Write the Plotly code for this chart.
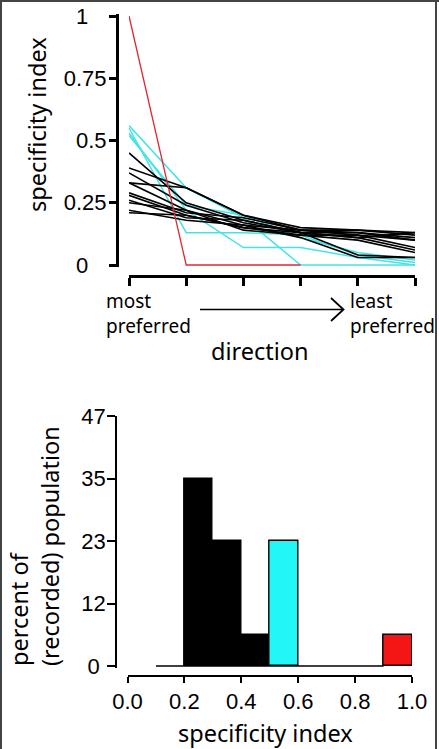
import plotly.graph_objects as go

W, H = 439, 749

# ---------------- data: top panel ----------------
directions = [0, 1, 2, 3, 4, 5]
black_series = [
    [0.45, 0.25, 0.18, 0.13, 0.04, 0.03],
    [0.39, 0.31, 0.20, 0.14, 0.13, 0.10],
    [0.37, 0.24, 0.17, 0.13, 0.11, 0.06],
    [0.33, 0.31, 0.20, 0.15, 0.14, 0.13],
    [0.33, 0.22, 0.16, 0.14, 0.12, 0.07],
    [0.29, 0.21, 0.19, 0.14, 0.14, 0.12],
    [0.28, 0.20, 0.15, 0.12, 0.10, 0.05],
    [0.26, 0.19, 0.18, 0.13, 0.13, 0.11],
    [0.25, 0.22, 0.14, 0.12, 0.12, 0.10],
    [0.22, 0.18, 0.16, 0.11, 0.03, 0.03],
    [0.21, 0.20, 0.15, 0.13, 0.11, 0.13],
]
cyan_series = [
    [0.56, 0.31, 0.19, 0.00, 0.00, 0.00],
    [0.55, 0.13, 0.13, 0.12, 0.04, 0.01],
    [0.53, 0.22, 0.07, 0.07, 0.03, 0.00],
    [0.52, 0.24, 0.20, 0.11, 0.05, 0.02],
]
red_series = [1.0, 0.0, 0.0, 0.0, None, None]
top_y_tickvals = [0, 0.25, 0.5, 0.75, 1]
top_y_ticktext = ["0", "0.25", "0.5", "0.75", "1"]

# ---------------- data: bottom panel ----------------
bin_centers = [0.25, 0.35, 0.45, 0.55, 0.95]
bin_percent = [35.29, 23.53, 5.88, 23.53, 5.88]
bin_colors = ["#000000", "#000000", "#000000", "#22f6f6", "#f41515"]
baseline_x = [0.1, 0.9]
baseline_y = [0, 0]
hist_y_tickvals = [0, 11.76, 23.53, 35.29, 47.06]
hist_y_ticktext = ["0", "12", "23", "35", "47"]
hist_x_tickvals = [0, 0.2, 0.4, 0.6, 0.8, 1.0]
hist_x_ticktext = ["0.0", "0.2", "0.4", "0.6", "0.8", "1.0"]


def px(x):
    return x / W


def py(y):
    return 1 - y / H


NB = "\u00a0"


def centered(labels, width):
    # pad right-aligned tick labels so that they look centred
    out = []
    for t in labels:
        out.append(t + NB * max(0, width - len(t)))
    return out


TICKFONT = dict(family="Liberation Sans, Arial, sans-serif", size=22, color="black")
WORDFONT = "Noto Sans, Open Sans, sans-serif"

fig = go.Figure()

for s in cyan_series:
    fig.add_trace(go.Scatter(x=directions, y=s, mode="lines",
                             line=dict(color="#45e3e6", width=1.5),
                             xaxis="x", yaxis="y", hoverinfo="skip"))
for s in black_series:
    fig.add_trace(go.Scatter(x=directions, y=s, mode="lines",
                             line=dict(color="#000000", width=1.6),
                             xaxis="x", yaxis="y", hoverinfo="skip"))
fig.add_trace(go.Scatter(x=directions, y=red_series, mode="lines",
                         line=dict(color="#e3262f", width=1.3),
                         xaxis="x", yaxis="y", hoverinfo="skip"))

fig.add_trace(go.Scatter(x=baseline_x, y=baseline_y, mode="lines",
                         line=dict(color="black", width=1.6),
                         xaxis="x2", yaxis="y2", hoverinfo="skip"))
fig.add_trace(go.Bar(x=bin_centers, y=bin_percent, width=0.1,
                     marker=dict(color=bin_colors, line=dict(color="black", width=1.4)),
                     xaxis="x2", yaxis="y2", hoverinfo="skip"))

pad_top = 2 / 249.0
pad_bot = 2 * 47.06 / 250.0

top_labels = ["0" + NB * 3, "0.25", "0.5", "0.75", "1" + NB * 3]
bot_labels = ["0" + NB, "12", "23", "35", "47"]

fig.update_layout(
    width=W, height=H,
    autosize=False,
    margin=dict(l=0, r=0, t=0, b=0, pad=0, autoexpand=False),
    paper_bgcolor="white", plot_bgcolor="rgba(0,0,0,0)",
    showlegend=False,
    xaxis=dict(domain=[px(129), px(415)], range=[0, 5], anchor="free", position=py(276),
               showgrid=False, zeroline=False, showline=True, linecolor="black", linewidth=3,
               ticks="outside", ticklen=8, tickwidth=3, tickcolor="black",
               tickvals=directions, showticklabels=False),
    yaxis=dict(domain=[py(267), py(14)], range=[-pad_top, 1 + pad_top], anchor="free",
               position=px(117),
               showgrid=False, zeroline=False, showline=True, linecolor="black", linewidth=3,
               ticks="outside", ticklen=7, tickwidth=3, tickcolor="black",
               tickvals=top_y_tickvals, ticktext=top_labels, tickfont=TICKFONT,
               ticklabelstandoff=-2),
    xaxis2=dict(domain=[px(127.5), px(412)], range=[0, 1], anchor="free", position=py(676),
                showgrid=False, zeroline=False, showline=True, linecolor="black", linewidth=1.5,
                ticks="outside", ticklen=6, tickwidth=1.5, tickcolor="black",
                tickvals=hist_x_tickvals, ticktext=hist_x_ticktext, tickfont=TICKFONT),
    yaxis2=dict(domain=[py(668), py(416)], range=[-pad_bot, 47.06], anchor="free",
                position=px(116),
                showgrid=False, zeroline=False, showline=True, linecolor="black", linewidth=1.5,
                ticks="outside", ticklen=8, tickwidth=1.5, tickcolor="black",
                tickvals=hist_y_tickvals, ticktext=bot_labels, tickfont=TICKFONT,
                ticklabelstandoff=-3),
    bargap=0,
)

ann = [
    dict(text="specificity index", x=px(37), y=py(125), textangle=-90,
         font=dict(family=WORDFONT, size=23.5, color="black")),
    dict(text="most<br>preferred", x=px(104), y=py(286), xanchor="left", yanchor="top",
         align="left", font=dict(family=WORDFONT, size=19, color="black")),
    dict(text="least<br>preferred", x=px(348), y=py(286), xanchor="left", yanchor="top",
         align="left", font=dict(family=WORDFONT, size=19, color="black")),
    dict(text="direction", x=px(260), y=py(351),
         font=dict(family=WORDFONT, size=23.5, color="black")),
    dict(text="percent of<br>(recorded) population", x=px(34), y=py(668), textangle=-90,
         xanchor="center", yanchor="bottom", align="left",
         font=dict(family=WORDFONT, size=23.5, color="black")),
    dict(text="specificity index", x=px(265), y=py(733),
         font=dict(family=WORDFONT, size=23.5, color="black")),
]
for a in ann:
    a.update(xref="paper", yref="paper", showarrow=False)
    a.setdefault("xanchor", "center")
    a.setdefault("yanchor", "middle")
fig.update_layout(annotations=ann)

shapes = [
    # arrow shaft
    dict(type="line", x0=px(200), x1=px(343), y0=py(309.5), y1=py(309.5),
         line=dict(color="black", width=1.6)),
    # arrow head (open chevron)
    dict(type="path",
         path="M {} {} L {} {} L {} {}".format(px(331), py(298), px(343.5), py(309.5),
                                               px(331), py(321)),
         line=dict(color="black", width=1.8)),
    # outer frame (top, left, right)
    dict(type="line", x0=0, x1=1, y0=py(1), y1=py(1), line=dict(color="#444444", width=2)),
    dict(type="line", x0=px(1), x1=px(1), y0=0, y1=1, line=dict(color="#444444", width=2)),
    dict(type="line", x0=px(436), x1=px(436), y0=0, y1=1, line=dict(color="#444444", width=2)),
]
for s in shapes:
    s.update(xref="paper", yref="paper", layer="above")
fig.update_layout(shapes=shapes)

fig.write_html(
    "out.html",
    config={"displayModeBar": False},
    post_script="document.body.style.margin='0';document.body.style.padding='0';"
                "document.body.style.overflow='hidden';"
                "document.documentElement.style.overflow='hidden';",
)
